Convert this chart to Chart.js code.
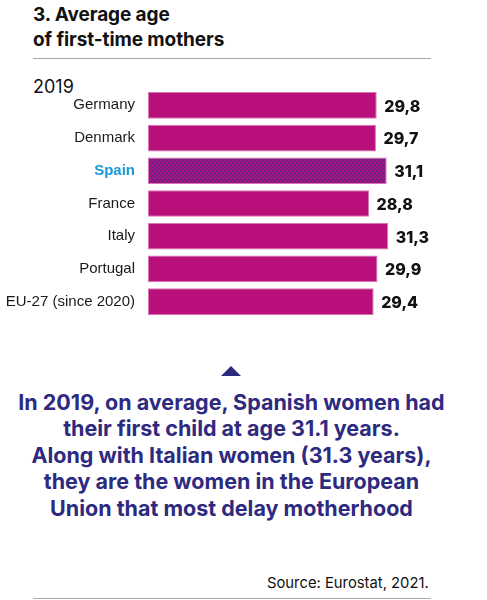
<!DOCTYPE html>
<html>
<head>
<meta charset="utf-8">
<script src="https://cdn.jsdelivr.net/npm/chart.js@4"></script>
<style>
  html, body { margin:0; padding:0; background:#fff; }
  body { width:487px; height:600px; position:relative; overflow:hidden; font-family: Inter, "Noto Sans", sans-serif; }
  .abs { position:absolute; white-space:nowrap; }
  #title { left:33px; top:2px; font-size:19px; font-weight:700; line-height:25.4px; color:#111; letter-spacing:-0.1px; }
  #rule1 { left:33px; top:58px; width:398px; height:1px; background:#a8a8a8; }
  #year { left:33px; top:78px; font-size:18px; line-height:1; color:#111; }
  #chartBox { left:0; top:0; width:487px; height:340px; }
  #tri { left:221px; top:366px; width:0; height:0; border-left:10.5px solid transparent; border-right:10.5px solid transparent; border-bottom:10.5px solid #2e2a80; }
  #caption { left:0; width:463px; top:389px; font-size:21.5px; font-weight:700; line-height:26.4px; color:#2e2a80; text-align:center; white-space:nowrap; }
  #source { left:267px; top:576px; font-size:14.8px; line-height:1; color:#111; }
  #rule2 { left:33px; top:598px; width:398px; height:1px; background:#a8a8a8; }
</style>
</head>
<body>
<div id="title" class="abs">3. Average age<br>of first-time mothers</div>
<div id="rule1" class="abs"></div>
<div id="year" class="abs">2019</div>
<div id="chartBox" class="abs"><canvas id="c" width="487" height="340"></canvas></div>
<div id="tri" class="abs"></div>
<div id="caption" class="abs">In 2019, on average, Spanish women had<br>their first child at age 31.1 years.<br>Along with Italian women (31.3 years),<br>they are the women in the European<br>Union that most delay motherhood</div>
<div id="source" class="abs">Source: Eurostat, 2021.</div>
<div id="rule2" class="abs"></div>

<script>
const categories = ["Germany", "Denmark", "Spain", "France", "Italy", "Portugal", "EU-27 (since 2020)"];
const ages = [29.8, 29.7, 31.1, 28.8, 31.3, 29.9, 29.4];
const highlighted = "Spain";

const MAGENTA = "#b80f7b";
const HATCH = "#432c8e";

function hatchPattern() {
  const s = 4;
  const cv = document.createElement("canvas");
  cv.width = s; cv.height = s;
  const g = cv.getContext("2d");
  g.fillStyle = MAGENTA;
  g.fillRect(0, 0, s, s);
  g.strokeStyle = HATCH;
  g.lineWidth = 1.1;
  g.beginPath();
  g.moveTo(0, s); g.lineTo(s, 0);
  g.moveTo(-1, 1); g.lineTo(1, -1);
  g.moveTo(s - 1, s + 1); g.lineTo(s + 1, s - 1);
  g.stroke();
  return g.createPattern(cv, "repeat");
}

const ctx = document.getElementById("c").getContext("2d");
const pattern = hatchPattern();

const valueLabels = {
  id: "valueLabels",
  afterDatasetsDraw(chart) {
    const c = chart.ctx;
    const meta = chart.getDatasetMeta(0);
    c.save();
    c.font = "800 16px Inter";
    c.fillStyle = "#111";
    c.textBaseline = "middle";
    c.textAlign = "left";
    meta.data.forEach((bar, i) => {
      const txt = ages[i].toFixed(1).replace(".", ",");
      c.fillText(txt, bar.x + 7.5, bar.y + 1.5);
    });
    c.restore();
  }
};

new Chart(ctx, {
  type: "bar",
  data: {
    labels: categories,
    datasets: [{
      data: ages,
      backgroundColor: categories.map(c => c === highlighted ? pattern : MAGENTA),
      borderColor: "#d873b4",
      borderWidth: 1,
      borderSkipped: false,
      categoryPercentage: 1,
      barPercentage: 0.815
    }]
  },
  options: {
    indexAxis: "y",
    responsive: false,
    animation: false,
    devicePixelRatio: 1,
    layout: { padding: { left: 0, top: 89, bottom: 8.5, right: 62.7 } },
    plugins: { legend: { display: false }, tooltip: { enabled: false } },
    scales: {
      x: { display: false, min: 0, max: 36 },
      y: {
        grid: { display: false, drawTicks: false },
        border: { display: false },
        ticks: {
          padding: 13,
          color: (c) => categories[c.index] === highlighted ? "#1b98d5" : "#1a1a1a",
          font: (c) => categories[c.index] === highlighted
            ? { family: "'Liberation Sans', Arial, sans-serif", size: 15, weight: "700" }
            : { family: "'Liberation Sans', Arial, sans-serif", size: 15, weight: "400" }
        },
        afterFit(scale) { scale.width = 148; }
      }
    }
  },
  plugins: [valueLabels]
});
</script>
</body>
</html>
